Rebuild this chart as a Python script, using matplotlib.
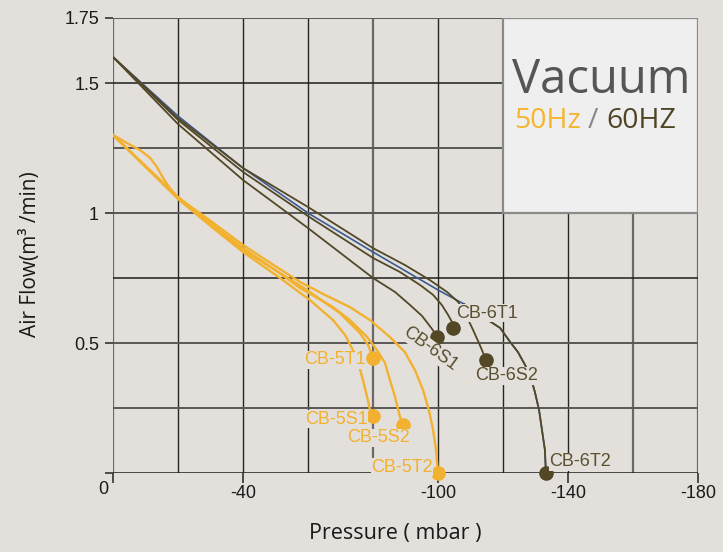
import matplotlib
matplotlib.use('Agg')
import matplotlib.pyplot as plt
from matplotlib.patches import Rectangle

BG = '#e3e0dc'
ORANGE = '#f2b12f'
DARK = '#524826'
LABEL_DARK = '#5a4f2e'
BLUE = '#3b5a92'

# ---- 60 Hz curves (pressure mbar, air flow m3/min) ----
cb6s1_x = [0, -20, -40, -60, -80, -86.8, -91.4, -95.1, -97.5, -99.1, -99.7]
cb6s1_y = [1.6, 1.342, 1.127, 0.942, 0.750, 0.696, 0.646, 0.604, 0.565, 0.538, 0.523]

cb6t1_x = [0, -20, -40, -60, -80, -88.3, -94.5, -98.5, -101.2, -103.1, -104.3, -104.6]
cb6t1_y = [1.6, 1.358, 1.158, 0.988, 0.827, 0.773, 0.723, 0.685, 0.646, 0.608, 0.581, 0.558]

cb6s2_x = [0, -20, -40, -60, -80, -89.8, -97.5, -102.8, -106.2, -108.6, -110.8, -112.6, -114.8]
cb6s2_y = [1.6, 1.365, 1.173, 1.023, 0.865, 0.8, 0.742, 0.696, 0.658, 0.608, 0.55, 0.5, 0.435]

cb6t2_x = [0, -20, -40, -60, -80, -100, -108, -115.4, -119.1, -122.2, -124.6, -126.8,
           -128.6, -129.8, -131.1, -132.0, -132.9, -133.2]
cb6t2_y = [1.6, 1.373, 1.173, 1.0, 0.85, 0.704, 0.65, 0.588, 0.558, 0.504, 0.465, 0.415,
           0.365, 0.312, 0.242, 0.165, 0.088, 0.0]

# ---- 50 Hz curves ----
cb5t2_x = [0, -4.3, -8.3, -11.4, -13.5, -15.4, -17.5, -19.7, -30, -40, -50, -57.5, -65.2,
           -72.9, -79.1, -85.2, -89.8, -92.9, -95.4, -97.2, -98.5, -99.4, -100]
cb5t2_y = [1.3, 1.269, 1.242, 1.212, 1.177, 1.135, 1.096, 1.062, 0.97, 0.877, 0.795, 0.735,
           0.685, 0.638, 0.588, 0.523, 0.465, 0.396, 0.319, 0.242, 0.165, 0.088, 0.0]

cb5s2_x = [0, -20, -30, -40, -50, -57.5, -67.7, -72.9, -78.2, -81.2, -83.7, -85.2, -86.8,
           -88.3, -89.2]
cb5s2_y = [1.3, 1.062, 0.96, 0.865, 0.78, 0.712, 0.638, 0.588, 0.523, 0.473, 0.423, 0.358,
           0.292, 0.215, 0.185]

cb5t1_x = [0, -20, -30, -40, -49.8, -59.7, -69.8, -76, -78.5, -80]
cb5t1_y = [1.3, 1.058, 0.955, 0.858, 0.781, 0.704, 0.615, 0.538, 0.492, 0.442]

cb5s1_x = [0, -20, -30, -40, -51.4, -60.6, -67.7, -71.4, -73.8, -75.4, -76.9, -78.2, -79.1, -80]
cb5s1_y = [1.3, 1.054, 0.95, 0.85, 0.75, 0.665, 0.588, 0.531, 0.473, 0.427, 0.358, 0.292,
           0.242, 0.219]

x_ticks = [0, -40, -100, -140, -180]
x_tick_labels = ['', '-40', '-100', '-140', '-180']
y_ticks = [0, 0.5, 1, 1.5, 1.75]
y_tick_labels = ['', '0.5', '1', '1.5', '1.75']

fig = plt.figure(figsize=(7.23, 5.52), dpi=100, facecolor=BG)
W, H = 723, 552
ax = fig.add_axes([113 / W, 1 - 473 / H, 585 / W, 455 / H])
ax.set_facecolor(BG)
ax.set_xlim(0, -180)
ax.set_ylim(0, 1.75)
for s in ax.spines.values():
    s.set_visible(False)

# grid
grey_x = {0, -80, -160, -180}
for i in range(0, 10):
    v = -20 * i
    if v in grey_x:
        ax.axvline(v, color='#6b6866', lw=1.6, zorder=1)
    else:
        ax.axvline(v, color='#262626', lw=1.0, zorder=1)
grey_y = {1.75, 1.25, 1.0, 0.5, 0.25}
for j in range(0, 8):
    v = 0.25 * j
    if v in grey_y:
        ax.axhline(v, color='#5a5856', lw=1.4, zorder=1)
    else:
        ax.axhline(v, color='#1e1e1e', lw=1.1, zorder=1)

ax.set_xticks(x_ticks)
ax.set_xticklabels(x_tick_labels)
ax.set_yticks(y_ticks)
ax.set_yticklabels(y_tick_labels)
ax.tick_params(axis='x', direction='out', length=7, width=1.2, color='#333333', pad=2,
               labelsize=13, labelcolor='#1a1a1a')
ax.tick_params(axis='y', direction='out', length=6, width=1.2, color='#333333', pad=4,
               labelsize=13, labelcolor='#1a1a1a')
for lab in ax.get_xticklabels() + ax.get_yticklabels():
    lab.set_family('Liberation Sans')
ax.annotate('0', xy=(0, 0), xytext=(-10, -17), textcoords='offset pixels',
            ha='center', va='center', fontsize=13, family='Liberation Sans', color='#1a1a1a')

# Vacuum box
ax.add_patch(Rectangle((-120, 1.0), -60, 0.75, facecolor='#efefef', edgecolor='#8a8a8a',
                       lw=1.6, zorder=3))

def px(xp, yp):
    return (xp / W, 1 - yp / H)

fig.text(*px(601, 80), 'Vacuum', ha='center', va='center', fontsize=34,
         family='Open Sans', color='#555555', zorder=5)
fig.text(*px(514, 121), '50Hz', ha='left', va='center', fontsize=20.5,
         family='Open Sans', color='#f5b52e', zorder=5)
fig.text(*px(588, 121), '/', ha='left', va='center', fontsize=20.5,
         family='Open Sans', color='#888888', zorder=5)
fig.text(*px(606, 121), '60HZ', ha='left', va='center', fontsize=20.5,
         family='Open Sans', color='#4f4526', zorder=5)

# curves
lw_d = 1.3
lw_o = 1.7
ax.plot(cb6t2_x, cb6t2_y, color=BLUE, lw=1.2, zorder=4)
ax.plot(cb6t2_x[6:], cb6t2_y[6:], color=DARK, lw=lw_d, zorder=4)
ax.plot(cb6s2_x, cb6s2_y, color=DARK, lw=lw_d, zorder=4)
ax.plot(cb6t1_x, cb6t1_y, color=DARK, lw=lw_d, zorder=4)
ax.plot(cb6s1_x, cb6s1_y, color=DARK, lw=lw_d, zorder=4)

for xs, ys in [(cb5t2_x, cb5t2_y), (cb5s2_x, cb5s2_y), (cb5t1_x, cb5t1_y), (cb5s1_x, cb5s1_y)]:
    ax.plot(xs, ys, color=ORANGE, lw=lw_o, zorder=4, solid_joinstyle='round')

# end dots
for xs, ys in [(cb6s1_x, cb6s1_y), (cb6t1_x, cb6t1_y), (cb6s2_x, cb6s2_y), (cb6t2_x, cb6t2_y)]:
    ax.plot(xs[-1], ys[-1], 'o', color=DARK, ms=9.5, zorder=6, clip_on=False)
for xs, ys in [(cb5t2_x, cb5t2_y), (cb5s2_x, cb5s2_y), (cb5t1_x, cb5t1_y), (cb5s1_x, cb5s1_y)]:
    ax.plot(xs[-1], ys[-1], 'o', color=ORANGE, ms=9.5, zorder=6, clip_on=False)

def label(text, xp, yp, color, rot=0):
    fig.text(*px(xp, yp), text, ha='center', va='center', fontsize=13, rotation=rot,
             family='Liberation Sans', color=color, zorder=5,
             bbox=dict(facecolor=BG, edgecolor='none', pad=0.3))

label('CB-6T1', 487, 313, LABEL_DARK)
label('CB-6S1', 430, 349, LABEL_DARK, rot=-36)
label('CB-6S2', 507, 376, LABEL_DARK)
label('CB-6T2', 580, 462, LABEL_DARK)
label('CB-5T1', 335, 360, ORANGE)
label('CB-5S1', 336, 419, ORANGE)
label('CB-5S2', 379, 438, ORANGE)
label('CB-5T2', 402, 467, ORANGE)

fig.text(*px(31, 254), 'Air Flow(m³ /min)', rotation=90, ha='center', va='center',
         fontsize=15, family='Open Sans', color='#1a1a1a')
fig.text(*px(395, 533), 'Pressure ( mbar )', ha='center', va='center',
         fontsize=15.5, family='Open Sans', color='#1a1a1a')

fig.savefig('out.png', dpi=100, facecolor=BG)
